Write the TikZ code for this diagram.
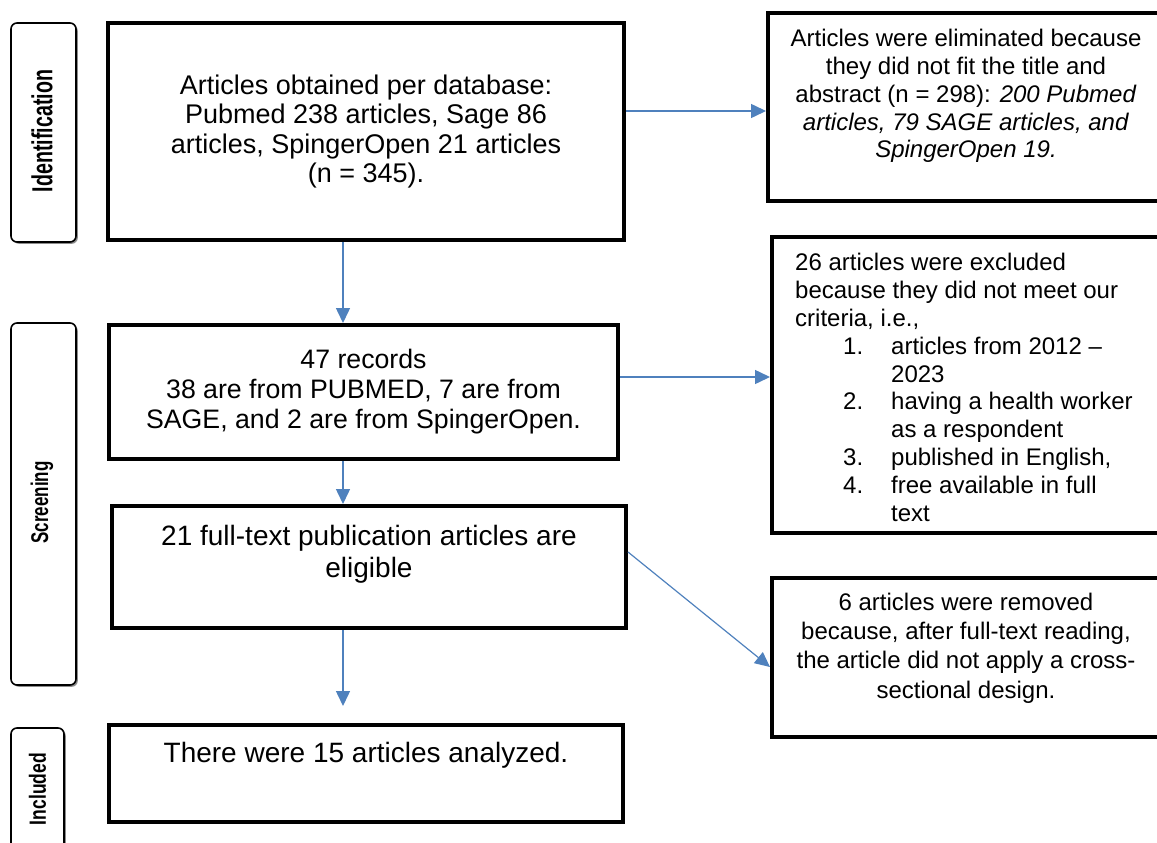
\documentclass[tikz,border=0pt]{standalone}
\usepackage{fontspec}
\setmainfont{Liberation Sans}
\usetikzlibrary{arrows.meta,shadows}
\definecolor{arrblue}{RGB}{79,129,189}
\begin{document}
\begin{tikzpicture}[x=1pt,y=-1pt,
  box/.style={draw, line width=4pt, rectangle, inner sep=0pt, fill=white},
  lblbox/.style={draw, line width=1.6pt, rounded corners=6pt, fill=white, inner sep=0pt,
    drop shadow={shadow xshift=1.8pt, shadow yshift=-1.8pt, fill=black!45, opacity=1}},
  lbltext/.style={rotate=90, inner sep=0pt},
  mainfont/.style={font=\fontsize{27}{29.5}\selectfont},
  sidefont/.style={font=\fontsize{24}{27.8}\selectfont},
  arr/.style={arrblue, line width=1.5pt, -{Triangle[length=15pt,width=14pt]}}
]
\useasboundingbox (0,0) rectangle (1157,843);
\clip (0,0) rectangle (1157,843);

% stage labels
\node[lblbox, minimum width=65pt, minimum height=219pt] (lid) at (43.5,132.5) {};
\node[lbltext] (tid) at (42,131) {\resizebox{122pt}{21pt}{\bfseries Identification}};
\node[lblbox, minimum width=65pt, minimum height=362pt] (lsc) at (43.5,504) {};
\node[lbltext] (tsc) at (42,502.5) {\resizebox{82pt}{17.5pt}{\bfseries Screening}};
\node[lblbox, minimum width=53pt, minimum height=172pt] (lin) at (37.5,814) {};
\node[lbltext] (tin) at (37.5,789) {\resizebox{72pt}{17pt}{\bfseries Included}};

% main column
\node[box, mainfont, align=center, minimum width=516pt, minimum height=217pt] (box1) at (366,131.5)
  {Articles obtained per database:\\ Pubmed 238 articles, Sage 86\\ articles, SpingerOpen 21 articles\\ (n = 345).};
\node[box, font=\fontsize{26.7}{30}\selectfont, align=center, minimum width=509pt, minimum height=134pt] (box2) at (363.5,392)
  {47 records\\ 38 are from PUBMED, 7 are from\\ SAGE, and 2 are from SpingerOpen.};
\node[box, minimum width=514pt, minimum height=122pt] (box3) at (369,567) {};
\node[font=\fontsize{28}{32}\selectfont, align=center] (t3) at (369,554)
  {21 full-text publication articles are\\ eligible};
\node[box, minimum width=514pt, minimum height=97pt] (box4) at (366,773.5) {};
\node[font=\fontsize{28}{32}\selectfont] (t4) at (366,755) {There were 15 articles analyzed.};

% right column
\node[box, minimum width=396pt, minimum height=188pt] (boxA) at (966,107) {};
\node[sidefont, align=center] (tA) at (966,96)
  {Articles were eliminated because\\ they did not fit the title and\\ abstract (n = 298): \textit{200 Pubmed}\\ \textit{articles, 79 SAGE articles, and}\\ \textit{SpingerOpen 19.}};
\node[box, minimum width=392pt, minimum height=296pt] (boxB) at (968,385) {};
\node[sidefont, align=left, anchor=west, inner sep=0pt] (tB) at (795,387.5)
  {26 articles were excluded\\
   because they did not meet our\\
   criteria, i.e.,\\
   \hspace*{48pt}\makebox[48pt][l]{1.}articles from 2012 –\\
   \hspace*{96pt}2023\\
   \hspace*{48pt}\makebox[48pt][l]{2.}having a health worker\\
   \hspace*{96pt}as a respondent\\
   \hspace*{48pt}\makebox[48pt][l]{3.}published in English,\\
   \hspace*{48pt}\makebox[48pt][l]{4.}free available in full\\
   \hspace*{96pt}text};
\node[box, minimum width=392pt, minimum height=159pt] (boxC) at (968,657.5) {};
\node[font=\fontsize{24}{29.3}\selectfont, align=center] (tC) at (966,648)
  {6 articles were removed\\ because, after full-text reading,\\ the article did not apply a cross-\\ sectional design.};

% connectors
\draw[arr] ([yshift=-4pt]boxA.west -| box1.east) -- ([yshift=-4pt]boxA.west);
\draw[arr] ([xshift=-23pt]box1.south) -- ([xshift=-23pt]box1.south |- box2.north);
\draw[arr] ([yshift=15pt]box2.east) -- ([yshift=15pt]box2.east -| boxB.west);
\draw[arr] ([xshift=-20.5pt]box2.south) -- ([xshift=-20.5pt]box2.south |- box3.north);
\draw[arr, line width=1.2pt] ([yshift=15pt]box3.east) -- ([yshift=-9.5pt]boxC.west);
\draw[arr] ([xshift=-26pt]box3.south) -- ([xshift=-23pt,yshift=17pt]box4.north);
\end{tikzpicture}
\end{document}
